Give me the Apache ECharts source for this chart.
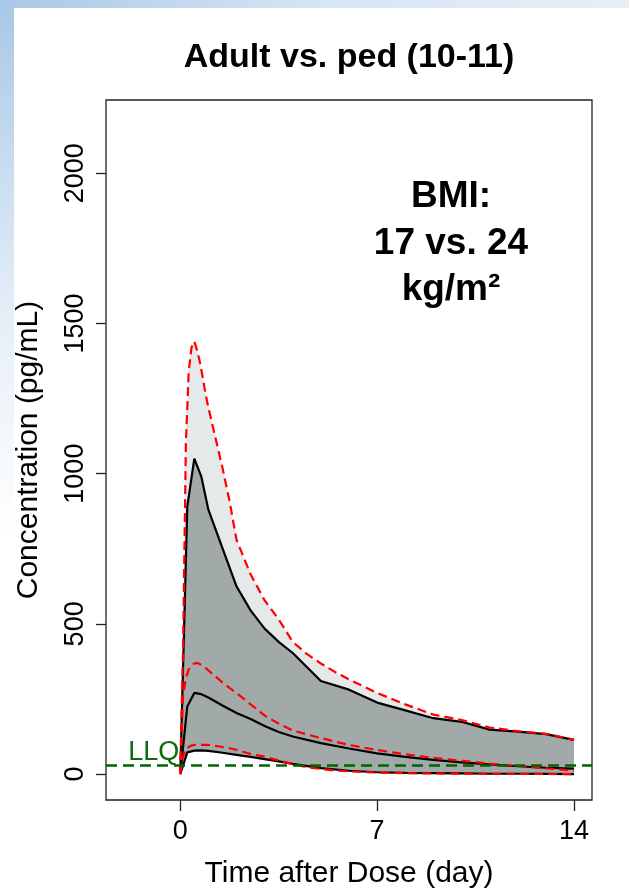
<!DOCTYPE html>
<html>
<head>
<meta charset="utf-8">
<script src="https://cdn.jsdelivr.net/npm/echarts@6/dist/echarts.min.js"></script>
<style>
html,body{margin:0;padding:0;background:#fff;}
#chart{width:629px;height:894px;}
</style>
</head>
<body>
<div id="chart"></div>
<script>
// ---- Data ----
const titleText = 'Adult vs. ped (10-11)';
const xTitle = 'Time after Dose (day)';
const yTitle = 'Concentration (pg/mL)';
const xTicks = [0, 7, 14];
const yTicks = [0, 500, 1000, 1500, 2000];
const annotationLines = ['BMI:', '17 vs. 24', 'kg/m\u00B2'];
const llq = 31;
const llqLabel = 'LLQ';

// Pediatric (black solid, dark band)
const pedDays = [0, 0.25, 0.5, 0.75, 1, 1.5, 2, 2.5, 3, 3.5, 4, 5, 6, 7, 8, 9, 10, 11, 12, 13, 14];
const pedHigh = [0, 890, 1050, 990, 880, 752, 625, 545, 484, 440, 403, 310, 281, 238, 212, 186, 174, 148, 141, 133, 114];
const pedMedian = [0, 225, 270, 266, 255, 228, 203, 183, 160, 140, 125, 103, 85, 69, 57, 47, 39, 32, 26, 21, 18];
const pedLow = [0, 72, 78, 79, 77, 71, 64, 57, 50, 42, 34, 20, 11, 6, 4, 3, 2, 1, 1, 0.5, 0];

// Adult (red dashed, light band)
const adultDays = [0, 0.1, 0.2, 0.3, 0.4, 0.5, 0.6, 0.7, 0.8, 0.9, 1, 1.25, 1.5, 1.75, 2, 2.5, 3, 3.5, 4, 4.5, 5, 5.5, 6, 7, 8, 9, 10, 11, 12, 13, 14];
const adultHigh = [0, 420, 1100, 1340, 1420, 1440, 1410, 1370, 1320, 1265, 1220, 1120, 1020, 910, 780, 665, 578, 515, 440, 400, 368, 340, 315, 270, 232, 198, 180, 155, 143, 134, 114];
const adultMedian = [0, 260, 320, 348, 362, 368, 370, 366, 360, 354, 345, 325, 305, 287, 270, 232, 195, 168, 145, 132, 120, 108, 97, 80, 66, 54, 44, 35, 27, 19, 12];
const adultLow = [0, 60, 83, 90, 95, 97, 98, 98, 97, 97, 97, 94, 90, 86, 81, 67, 58, 45, 33, 23, 17, 12, 9, 5, 3, 2, 1.5, 1, 1, 0.5, 0];

const FONT = "'Liberation Sans', Arial, Helvetica, sans-serif";

function pairs(xs, ys) { return xs.map((x, i) => [x, ys[i]]); }

function band(name, xs, hi, lo, color, z) {
  return {
    type: 'custom', name: name, z: z, silent: true, clip: true,
    data: [[xs[0], hi[0]]],
    renderItem: function (params, api) {
      const pts = [];
      for (let i = 0; i < xs.length; i++) pts.push(api.coord([xs[i], hi[i]]));
      for (let i = xs.length - 1; i >= 0; i--) pts.push(api.coord([xs[i], lo[i]]));
      return { type: 'polygon', shape: { points: pts }, style: { fill: color } };
    }
  };
}

function line(name, xs, ys, color, dashed, z) {
  return {
    type: 'line', name: name, z: z, data: pairs(xs, ys), showSymbol: false, symbol: 'none',
    silent: true, animation: false, clip: true,
    lineStyle: { color: color, width: 2.2, type: dashed ? [9, 5] : 'solid' }
  };
}

const chart = echarts.init(document.getElementById('chart'), null, { renderer: 'canvas' });

const option = {
  animation: false,
  backgroundColor: '#ffffff',
  textStyle: { fontFamily: FONT },
  grid: { left: 106, right: 37, top: 100, bottom: 94, show: true, borderColor: '#222', borderWidth: 1.3, backgroundColor: 'transparent' },
  xAxis: {
    type: 'value', min: -2.64, max: 14.64,
    name: xTitle, nameLocation: 'middle', nameGap: 59,
    nameTextStyle: { fontSize: 30, color: '#000', fontFamily: FONT },
    axisLine: { show: false, onZero: false },
    axisTick: { show: true, inside: false, length: 11, lineStyle: { color: '#222', width: 1.3 }, customValues: xTicks },
    axisLabel: { show: true, fontSize: 27, color: '#000', margin: 18, fontFamily: FONT, customValues: xTicks, formatter: v => String(v) },
    splitLine: { show: false }
  },
  yAxis: {
    type: 'value', min: -86.3, max: 2243.6,
    name: yTitle, nameLocation: 'middle', nameGap: 62, nameRotate: 90,
    nameTextStyle: { fontSize: 30, color: '#000', fontFamily: FONT },
    axisLine: { show: false, onZero: false },
    axisTick: { show: true, inside: false, length: 10, lineStyle: { color: '#222', width: 1.3 }, customValues: yTicks },
    axisLabel: { show: true, fontSize: 27, color: '#000', margin: 17, rotate: 90, fontFamily: FONT, customValues: yTicks, formatter: v => String(v) },
    splitLine: { show: false }
  },
  series: [
    band('Adult range', adultDays, adultHigh, adultLow, '#e6e9ea', 1),
    band('Pediatric range', pedDays, pedHigh, pedLow, '#a1aaa9', 2),
    line('Adult high', adultDays, adultHigh, '#ff0000', true, 4),
    line('Adult median', adultDays, adultMedian, '#ff0000', true, 4),
    line('Adult low', adultDays, adultLow, '#ff0000', true, 4),
    line('Ped high', pedDays, pedHigh, '#000000', false, 3),
    line('Ped median', pedDays, pedMedian, '#000000', false, 3),
    line('Ped low', pedDays, pedLow, '#000000', false, 3),
    {
      type: 'line', name: 'LLQ', data: [], z: 5, silent: true,
      markLine: {
        silent: true, symbol: 'none', animation: false,
        label: { show: false },
        lineStyle: { color: '#006400', width: 2.5, type: [11, 6] },
        data: [{ yAxis: llq }]
      }
    }
  ]
};
chart.setOption(option);

const llqPt = chart.convertToPixel({ gridIndex: 0 }, [0, llq]);
chart.setOption({
  graphic: [
    { type: 'rect', z: -10, silent: true, shape: { x: 0, y: 0, width: 14, height: 894 },
      style: { fill: new echarts.graphic.LinearGradient(0, 0, 0, 1, [
        { offset: 0, color: '#a9c7e7' }, { offset: 0.35, color: '#e4eef8' }, { offset: 0.6, color: '#ffffff' }, { offset: 1, color: '#ffffff' }]) } },
    { type: 'rect', z: -10, silent: true, shape: { x: 0, y: 0, width: 629, height: 8 },
      style: { fill: new echarts.graphic.LinearGradient(0, 0, 1, 0, [
        { offset: 0, color: '#a9c7e7' }, { offset: 0.5, color: '#d6e5f4' }, { offset: 1, color: '#e6eff8' }]) } },
    { type: 'text', x: 349, y: 58, silent: true,
      style: { text: titleText, font: "bold 34px " + FONT, fill: '#000', align: 'center', verticalAlign: 'middle' } },
    { type: 'text', x: 451, y: 197, silent: true,
      style: { text: annotationLines[0], font: "bold 37px " + FONT, fill: '#000', align: 'center', verticalAlign: 'middle' } },
    { type: 'text', x: 451, y: 244, silent: true,
      style: { text: annotationLines[1], font: "bold 37px " + FONT, fill: '#000', align: 'center', verticalAlign: 'middle' } },
    { type: 'text', x: 451, y: 290, silent: true,
      style: { text: annotationLines[2], font: "bold 37px " + FONT, fill: '#000', align: 'center', verticalAlign: 'middle' } },
    { type: 'text', x: llqPt[0] - 1, y: llqPt[1] + 1, silent: true, z: 10,
      style: { text: llqLabel, font: "27px " + FONT, fill: '#0d6b0d', align: 'right', verticalAlign: 'bottom' } }
  ]
});
</script>
</body>
</html>
